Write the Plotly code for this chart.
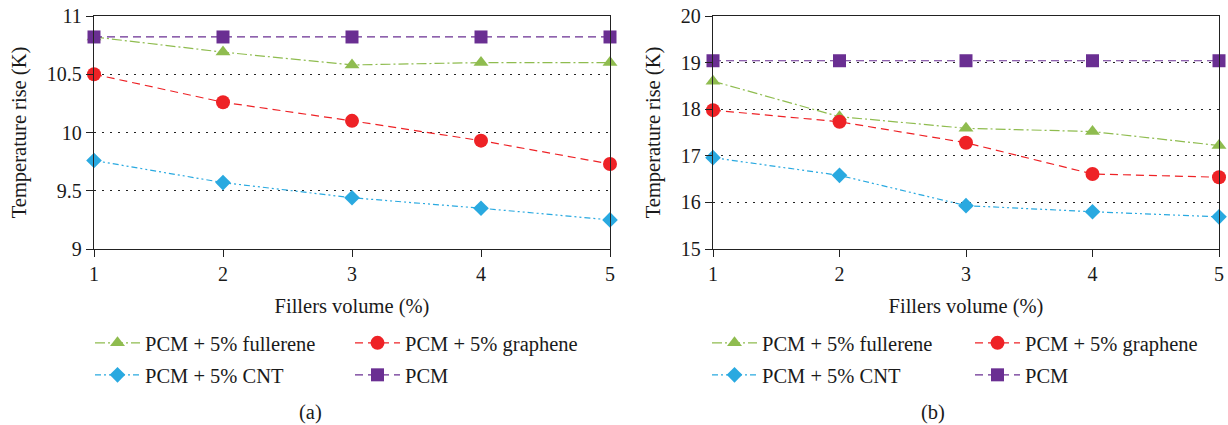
import plotly.graph_objects as go

W, H = 1228, 425

fillers = [1, 2, 3, 4, 5]

# Panel (a)
a_fullerene = [10.82, 10.69, 10.58, 10.60, 10.60]
a_graphene = [10.50, 10.26, 10.10, 9.93, 9.73]
a_cnt = [9.76, 9.57, 9.44, 9.35, 9.25]
a_pcm = [10.82, 10.82, 10.82, 10.82, 10.82]

# Panel (b)
b_fullerene = [18.60, 17.84, 17.59, 17.52, 17.22]
b_graphene = [17.98, 17.73, 17.28, 16.61, 16.54]
b_cnt = [16.96, 16.58, 15.93, 15.80, 15.69]
b_pcm = [19.04, 19.04, 19.04, 19.04, 19.04]

names = ["PCM + 5% fullerene", "PCM + 5% graphene", "PCM + 5% CNT", "PCM"]
colors = ["#8fbc4f", "#ee2226", "#29a9e0", "#6a2f92"]
dashes = ["10px,3px,2px,3px", "8px,5px", "6px,3px,2px,3px,2px,3px", "8px,5px"]
symbols = ["triangle-up", "circle", "diamond", "square"]
sizes = [13, 14, 12, 13]

FONT = "Liberation Serif"
TXT = "#1a1a1a"

fig = go.Figure()

panels = [
    ([a_fullerene, a_graphene, a_cnt, a_pcm], "x", "y", 0),
    ([b_fullerene, b_graphene, b_cnt, b_pcm], "x2", "y2", 1),
]

# legend text start x (px) per panel column, and row centre y
leg_text_x = [[147, 407], [764, 1027]]
leg_rows = [343, 375]
order_pos = [(0, 0), (1, 0), (0, 1), (1, 1)]  # (col,row) for each series
TEXT_OFFSET = 57

leg_idx = 0
legend_layouts = {}
for series, xa, ya, p in panels:
    for i, vals in enumerate(series):
        leg_idx += 1
        lname = "legend" if leg_idx == 1 else f"legend{leg_idx}"
        fig.add_trace(go.Scatter(
            x=fillers, y=vals, name=names[i], xaxis=xa, yaxis=ya,
            mode="lines+markers", cliponaxis=False, showlegend=True,
            line=dict(color=colors[i], width=1.2, dash=dashes[i]),
            marker=dict(symbol=symbols[i], size=sizes[i], color=colors[i]),
            legend=lname,
        ))
        c, r = order_pos[i]
        legend_layouts[lname] = dict(
            x=(leg_text_x[p][c] - TEXT_OFFSET) / W, y=1 - leg_rows[r] / H,
            xanchor="left", yanchor="middle", itemwidth=45,
            bgcolor="rgba(0,0,0,0)", borderwidth=0,
            font=dict(family=FONT, size=20.5, color=TXT),
        )

axis_common = dict(
    showline=True, linecolor="#222", linewidth=1.3, mirror=True,
    ticks="outside", ticklen=7, tickcolor="#222", tickwidth=1.3,
    tickfont=dict(family=FONT, size=20, color=TXT),
    zeroline=False, automargin=False,
)
xcommon = dict(axis_common, range=[1, 5], tickvals=fillers, showgrid=False,
               title=dict(text="Fillers volume (%)", font=dict(family=FONT, size=20.5, color=TXT), standoff=14))
ycommon = dict(axis_common, showgrid=True, gridcolor="#222", gridwidth=1.2, griddash="2px,6px")
ytitle = dict(text="Temperature rise (K)", font=dict(family=FONT, size=20.5, color=TXT), standoff=14)

fig.update_layout(
    width=W, height=H,
    margin=dict(l=0, r=0, t=0, b=0, autoexpand=False),
    showlegend=True,
    paper_bgcolor="white", plot_bgcolor="white",
    font=dict(family=FONT, color=TXT),
    xaxis=dict(xcommon, domain=[94 / W, 610 / W], anchor="y"),
    yaxis=dict(ycommon, domain=[1 - 249 / H, 1 - 16 / H], anchor="x",
               range=[9, 11], tickvals=[9, 9.5, 10, 10.5, 11], ticktext=["9", "9.5", "10", "10.5", "11"],
               title=ytitle),
    xaxis2=dict(xcommon, domain=[713 / W, 1219 / W], anchor="y2"),
    yaxis2=dict(ycommon, domain=[1 - 249 / H, 1 - 16 / H], anchor="x2",
                range=[15, 20], tickvals=[15, 16, 17, 18, 19, 20], title=ytitle),
    **legend_layouts,
    annotations=[
        dict(text="(a)", x=310 / W, y=1 - 412 / H, xref="paper", yref="paper",
             xanchor="center", yanchor="middle",
             showarrow=False, font=dict(family=FONT, size=20.5, color=TXT)),
        dict(text="(b)", x=933 / W, y=1 - 412 / H, xref="paper", yref="paper",
             xanchor="center", yanchor="middle",
             showarrow=False, font=dict(family=FONT, size=20.5, color=TXT)),
    ],
)

fig.write_html("out.html", config={"displayModeBar": False},
               post_script="document.body.style.margin='0';")
